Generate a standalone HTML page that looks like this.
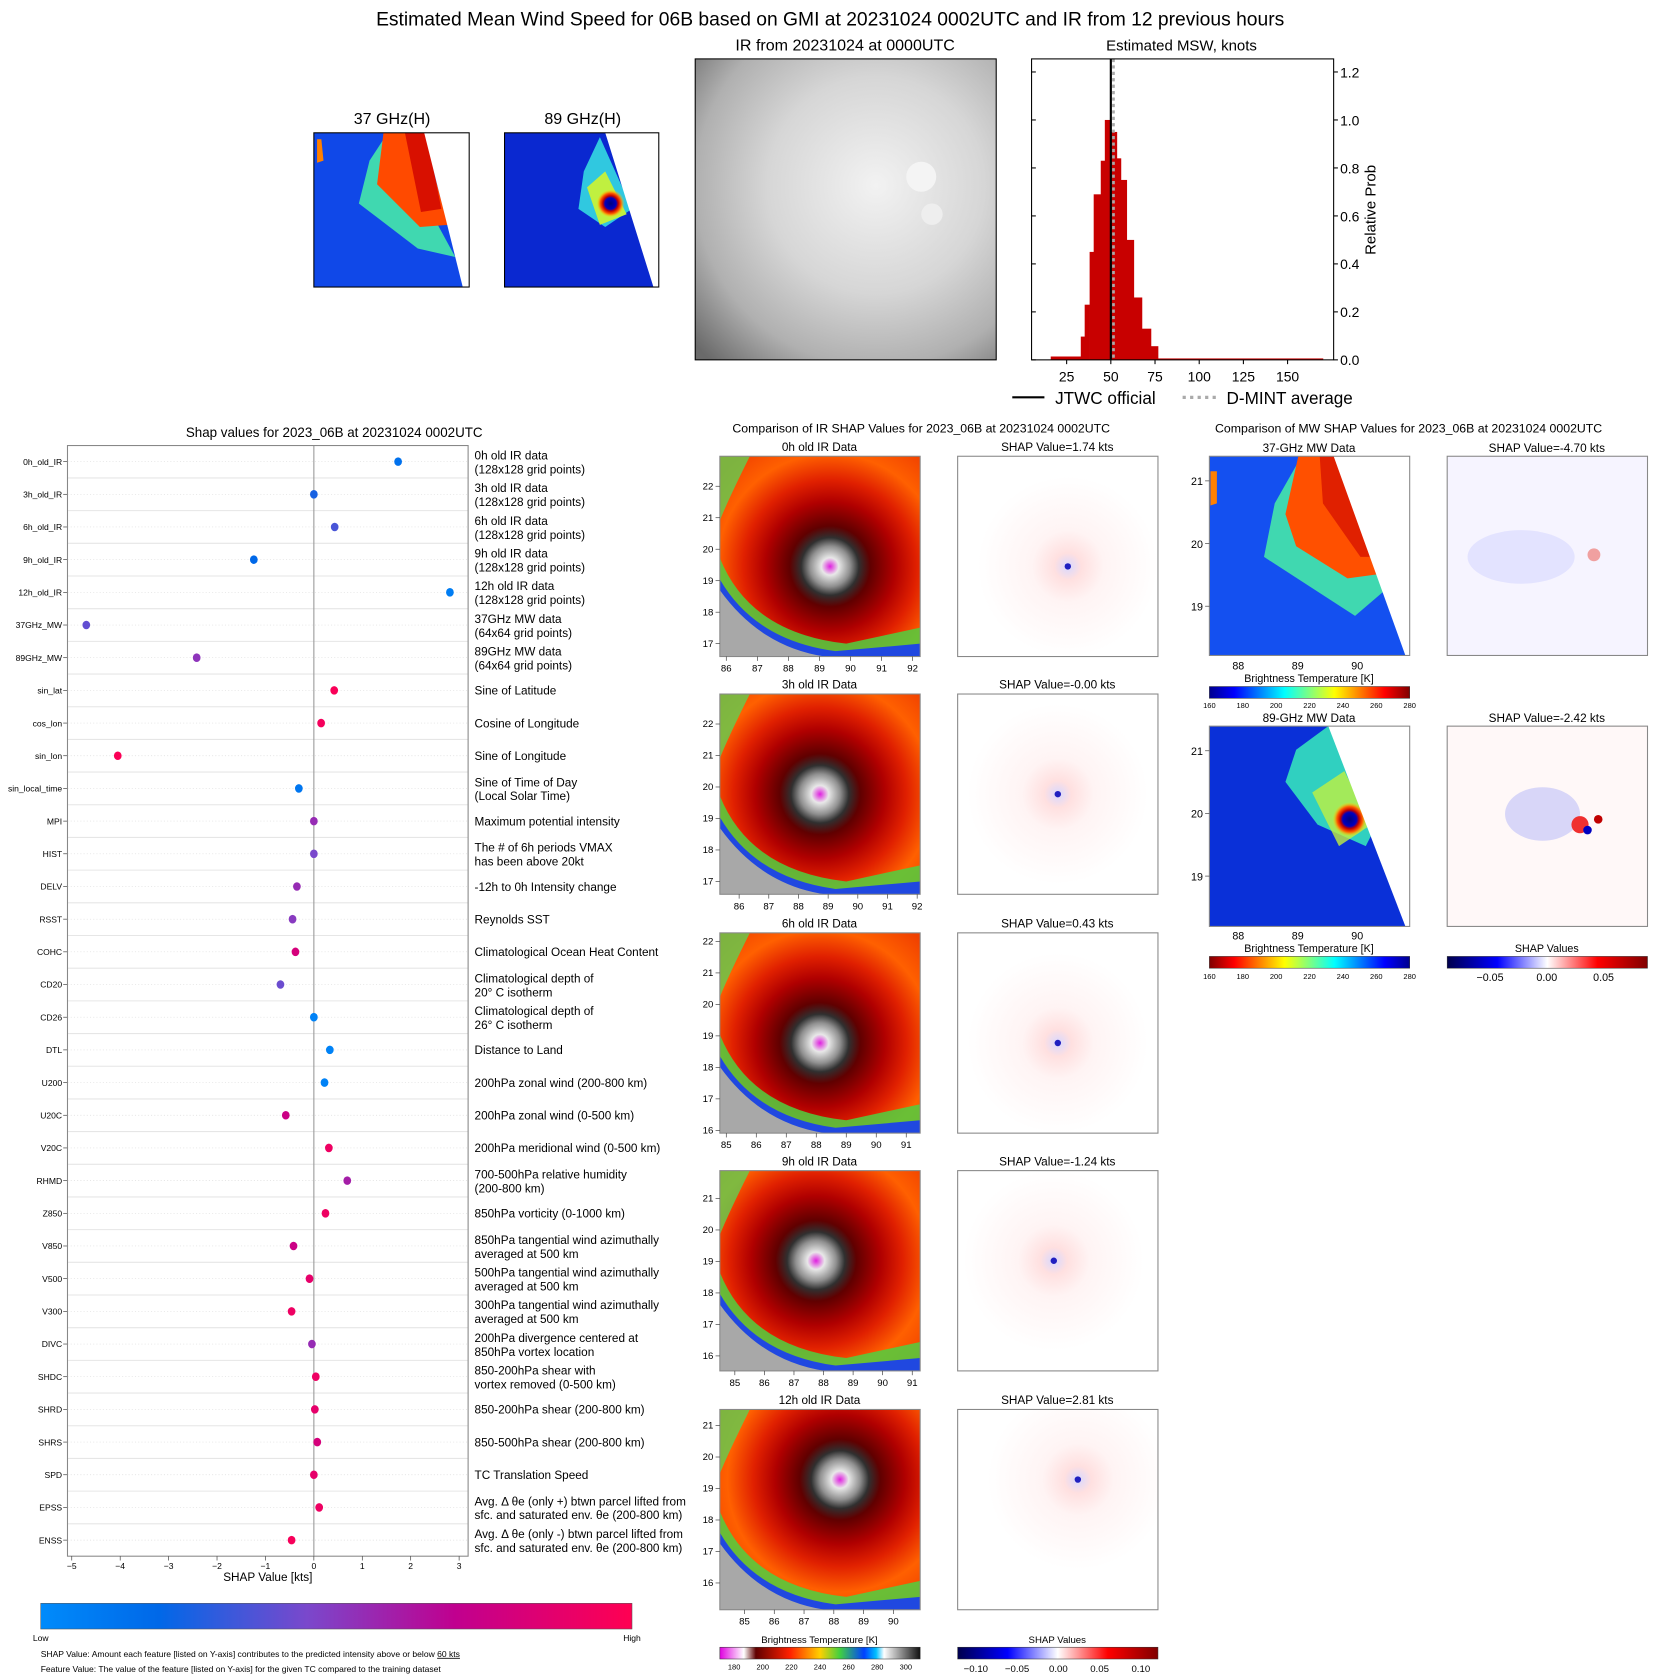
<!DOCTYPE html>
<html><head><meta charset="utf-8"><style>
html,body{margin:0;padding:0;background:#fff;}
svg{display:block;font-family:"Liberation Sans","DejaVu Sans",sans-serif;}
</style></head><body>
<svg id="fig" width="1655" height="1674" viewBox="0 0 1545 1563" preserveAspectRatio="none" xmlns="http://www.w3.org/2000/svg">
<defs>
<radialGradient id="gIRtop" cx="0.6" cy="0.42" r="0.8">
<stop offset="0" stop-color="#f2f2f2"/><stop offset="0.45" stop-color="#d6d6d6"/><stop offset="0.75" stop-color="#b0b0b0"/><stop offset="1" stop-color="#6a6a6a"/></radialGradient>
<radialGradient id="gIR" cx="0.5" cy="0.5" r="0.7">
<stop offset="0" stop-color="#e020e0"/><stop offset="0.06" stop-color="#e8e8e8"/><stop offset="0.14" stop-color="#909090"/><stop offset="0.2" stop-color="#303030"/><stop offset="0.28" stop-color="#600000"/><stop offset="0.45" stop-color="#b00000"/><stop offset="0.6" stop-color="#e02000"/><stop offset="0.78" stop-color="#ff6000"/><stop offset="1" stop-color="#f04000"/></radialGradient>
<radialGradient id="gSH" cx="0.5" cy="0.5" r="0.5">
<stop offset="0" stop-color="#d8d8ff"/><stop offset="0.15" stop-color="#ffe0e0"/><stop offset="0.4" stop-color="#fff4f4"/><stop offset="1" stop-color="#ffffff"/></radialGradient>
<radialGradient id="gRing" cx="0.5" cy="0.5" r="0.5">
<stop offset="0" stop-color="#000080"/><stop offset="0.4" stop-color="#0000c0"/><stop offset="0.55" stop-color="#c00000"/><stop offset="0.75" stop-color="#ff6000"/><stop offset="1" stop-color="#ffe000" stop-opacity="0"/></radialGradient>
<linearGradient id="gLow" x1="0" x2="1"><stop offset="0" stop-color="#008bfb"/><stop offset="0.2" stop-color="#0068e8"/><stop offset="0.45" stop-color="#7a48cc"/><stop offset="0.7" stop-color="#c0008f"/><stop offset="1" stop-color="#ff0052"/></linearGradient>
<linearGradient id="gJet" x1="0" x2="1"><stop offset="0" stop-color="#00008f"/><stop offset="0.125" stop-color="#0000ff"/><stop offset="0.375" stop-color="#00ffff"/><stop offset="0.625" stop-color="#ffff00"/><stop offset="0.875" stop-color="#ff0000"/><stop offset="1" stop-color="#800000"/></linearGradient>
<linearGradient id="gJetR" x1="1" x2="0"><stop offset="0" stop-color="#00008f"/><stop offset="0.125" stop-color="#0000ff"/><stop offset="0.375" stop-color="#00ffff"/><stop offset="0.625" stop-color="#ffff00"/><stop offset="0.875" stop-color="#ff0000"/><stop offset="1" stop-color="#800000"/></linearGradient>
<linearGradient id="gIRcb" x1="0" x2="1"><stop offset="0" stop-color="#e000e0"/><stop offset="0.12" stop-color="#ffffff"/><stop offset="0.18" stop-color="#600000"/><stop offset="0.35" stop-color="#ff2000"/><stop offset="0.5" stop-color="#ffd000"/><stop offset="0.6" stop-color="#40d040"/><stop offset="0.72" stop-color="#0040ff"/><stop offset="0.78" stop-color="#00c0ff"/><stop offset="0.82" stop-color="#ffffff"/><stop offset="1" stop-color="#101010"/></linearGradient>
<linearGradient id="gSeis" x1="0" x2="1"><stop offset="0" stop-color="#00004c"/><stop offset="0.25" stop-color="#0000ff"/><stop offset="0.5" stop-color="#ffffff"/><stop offset="0.75" stop-color="#ff0000"/><stop offset="1" stop-color="#800000"/></linearGradient>
</defs>

<text x="775" y="24" font-size="18" text-anchor="middle">Estimated Mean Wind Speed for 06B based on GMI at 20231024 0002UTC and IR from 12 previous hours</text>

<g>
<text x="366" y="116" font-size="15" text-anchor="middle">37 GHz(H)</text>
<rect x="293" y="124" width="145" height="144" fill="#1048e8"/>
<polygon points="345,150 362,124 425,240 390,232 335,190" fill="#40d8b0"/>
<polygon points="358,124 395,124 418,210 392,212 352,172" fill="#ff4a00"/>
<polygon points="378,124 398,124 412,195 393,198" fill="#d81000"/>
<polygon points="296,130 300,130 302,150 296,152" fill="#ff8000"/>
<polygon points="396,124 438,124 438,268 432,268" fill="#fff"/>
<rect x="293" y="124" width="145" height="144" fill="none" stroke="#000"/>
</g>
<g>
<text x="544" y="116" font-size="15" text-anchor="middle">89 GHz(H)</text>
<rect x="471" y="124" width="144" height="144" fill="#0a28d0"/>
<polygon points="545,160 560,128 590,195 565,212 540,195" fill="#30c8e0"/>
<polygon points="548,175 565,160 585,200 560,210" fill="#c0f040"/>
<circle cx="570" cy="190" r="13" fill="url(#gRing)"/>
<polygon points="565,124 615,124 615,268 610,268" fill="#fff"/>
<rect x="471" y="124" width="144" height="144" fill="none" stroke="#000"/>
</g>
<g>
<text x="789" y="47" font-size="15" text-anchor="middle">IR from 20231024 at 0000UTC</text>
<rect x="649" y="55" width="281" height="281" fill="url(#gIRtop)" stroke="#000"/>
<circle cx="860" cy="165" r="14" fill="#f4f4f4"/><circle cx="870" cy="200" r="10" fill="#eee"/>
</g>

<g id="hist">
<text x="1103" y="47" font-size="14" text-anchor="middle">Estimated MSW, knots</text>
<g id="histBars"></g>
<g id="histAxes"></g>
<rect x="963" y="55" width="282" height="281" fill="none" stroke="#000"/>
<text transform="translate(1284,196) rotate(-90)" font-size="14" text-anchor="middle">Relative Prob</text>
<g>
<line x1="945" y1="371" x2="975" y2="371" stroke="#000" stroke-width="2"/>
<text x="985" y="377" font-size="16">JTWC official</text>
<line x1="1104" y1="371" x2="1136" y2="371" stroke="#aaa" stroke-width="3" stroke-dasharray="3,4"/>
<text x="1145" y="377" font-size="16">D-MINT average</text>
</g>
</g>

<g id="shap">
<text x="312" y="408" font-size="12.5" text-anchor="middle">Shap values for 2023_06B at 20231024 0002UTC</text>
<g id="shapRows"></g>
<line x1="293" y1="416" x2="293" y2="1453" stroke="#999" stroke-width="1"/>
<rect x="63" y="416" width="374" height="1037" fill="none" stroke="#888"/>
<g id="shapDots"></g>
<g id="shapX"></g>
<text x="250" y="1476" font-size="11" text-anchor="middle">SHAP Value [kts]</text>
<rect x="38" y="1497" width="552" height="24" fill="url(#gLow)" stroke="#555" stroke-width="0.5"/>
<text x="38" y="1532" font-size="8" text-anchor="middle">Low</text>
<text x="590" y="1532" font-size="8" text-anchor="middle">High</text>
<text x="38" y="1547" font-size="8">SHAP Value: Amount each feature [listed on Y-axis] contributes to the predicted intensity above or below <tspan text-decoration="underline">60 kts</tspan></text>
<text x="38" y="1561" font-size="8">Feature Value: The value of the feature [listed on Y-axis] for the given TC compared to the training dataset</text>
</g>

<g id="irComp">
<text x="860" y="404" font-size="11.5" text-anchor="middle">Comparison of IR SHAP Values for 2023_06B at 20231024 0002UTC</text>
<text x="765" y="1534" font-size="9" text-anchor="middle">Brightness Temperature [K]</text>
<rect x="672" y="1538" width="187" height="11" fill="url(#gIRcb)" stroke="#333" stroke-width="0.5"/>
<text x="987" y="1534" font-size="9" text-anchor="middle">SHAP Values</text>
<rect x="894" y="1538" width="187" height="11" fill="url(#gSeis)" stroke="#333" stroke-width="0.5"/>
</g>

<g id="mwComp">
<text x="1315" y="404" font-size="11.5" text-anchor="middle">Comparison of MW SHAP Values for 2023_06B at 20231024 0002UTC</text>
<text x="1222" y="422" font-size="11" text-anchor="middle">37-GHz MW Data</text>
<rect x="1129" y="426" width="187" height="186" fill="#1450f0"/>
<polygon points="1190,470 1215,426 1300,545 1265,575 1180,520" fill="#40d8b0"/>
<polygon points="1212,426 1245,426 1295,535 1258,540 1210,510 1200,480" fill="#ff5000"/>
<polygon points="1232,426 1247,426 1290,520 1270,520 1235,470" fill="#e02000"/>
<polygon points="1130,440 1136,440 1136,470 1130,472" fill="#ff8000"/>
<polygon points="1245,426 1316,426 1316,612 1312,612" fill="#fff"/>
<rect x="1129" y="426" width="187" height="186" fill="none" stroke="#888"/>
<text x="1222" y="637" font-size="10" text-anchor="middle">Brightness Temperature [K]</text>
<rect x="1129" y="641" width="187" height="11" fill="url(#gJet)" stroke="#333" stroke-width="0.5"/>
<text x="1444" y="422" font-size="11" text-anchor="middle">SHAP Value=-4.70 kts</text>
<rect x="1351" y="426" width="187" height="186" fill="#f6f4ff" stroke="#888"/>
<ellipse cx="1420" cy="520" rx="50" ry="25" fill="#dcdcff" opacity="0.7"/>
<circle cx="1488" cy="518" r="6" fill="#f0a0a0"/>
<text x="1222" y="674" font-size="11" text-anchor="middle">89-GHz MW Data</text>
<rect x="1129" y="678" width="187" height="187" fill="#0a30d8"/>
<polygon points="1210,700 1240,678 1290,760 1275,790 1230,770 1200,730" fill="#30d0c0"/>
<polygon points="1225,740 1255,720 1280,770 1250,790" fill="#c0f040" opacity="0.8"/>
<circle cx="1260" cy="765" r="16" fill="url(#gRing)"/>
<polygon points="1240,678 1316,678 1316,865 1312,865" fill="#fff"/>
<rect x="1129" y="678" width="187" height="187" fill="none" stroke="#888"/>
<text x="1222" y="889" font-size="10" text-anchor="middle">Brightness Temperature [K]</text>
<rect x="1129" y="893" width="187" height="11" fill="url(#gJetR)" stroke="#333" stroke-width="0.5"/>
<text x="1444" y="674" font-size="11" text-anchor="middle">SHAP Value=-2.42 kts</text>
<rect x="1351" y="678" width="187" height="187" fill="#fff8f8" stroke="#888"/>
<ellipse cx="1440" cy="760" rx="35" ry="25" fill="#c8c8f8" opacity="0.7"/>
<circle cx="1475" cy="770" r="8" fill="#f03030"/><circle cx="1482" cy="775" r="4" fill="#0000c0"/><circle cx="1492" cy="765" r="4" fill="#c00000"/>
<text x="1444" y="889" font-size="10" text-anchor="middle">SHAP Values</text>
<rect x="1351" y="893" width="187" height="11" fill="url(#gSeis)" stroke="#333" stroke-width="0.5"/>
</g>
</svg>
<script>
var NS='http://www.w3.org/2000/svg';
var svg=document.getElementById('fig');
function mk(tag,attrs,parent){var e=document.createElementNS(NS,tag);for(var k in attrs)e.setAttribute(k,attrs[k]);parent.appendChild(e);return e;}
function tx(x,y,s,size,anchor,parent){var t=mk('text',{x:x,y:y,'font-size':size,'text-anchor':anchor||'middle'},parent);t.textContent=s;return t;}

// ---------- Histogram data ----------
var histEdges=[16,33,35.2,38,40.3,44.3,46.6,49.4,53.4,55.7,59,63,67.6,72.7,76.7,170];
var histProb=[0.014,0.097,0.23,0.45,0.69,0.83,1.0,0.95,0.84,0.75,0.50,0.26,0.13,0.057,0.006];
var jtwcValue=50;
var dmintValue=51.5;
var histXTicks=[25,50,75,100,125,150];
var histYTicks=[0,0.2,0.4,0.6,0.8,1.0,1.2];
function xH(v){return 1037+(v-50)*1.65;}
function yH(p){return 336-p*224;}
var hb=document.getElementById('histBars'),ha=document.getElementById('histAxes');
for(var i=0;i<histProb.length;i++){
  var r=mk('rect',{x:xH(histEdges[i]),y:yH(histProb[i]),width:xH(histEdges[i+1])-xH(histEdges[i])+0.3,height:336-yH(histProb[i]),fill:'#c80000'},hb);
  
  
}
var jl=mk('line',{x1:xH(jtwcValue),x2:xH(jtwcValue),y1:55,y2:336,stroke:'#000','stroke-width':2},hb);


var dl=mk('line',{x1:xH(dmintValue),x2:xH(dmintValue),y1:55,y2:336,stroke:'#aaa','stroke-width':2.5,'stroke-dasharray':'3,3'},hb);


histXTicks.forEach(function(v){
  mk('line',{x1:xH(v),x2:xH(v),y1:336,y2:340,stroke:'#000'},ha);
  var t=tx(xH(v),356,String(v),13,'middle',ha);
  
  
});
histYTicks.forEach(function(v){
  mk('line',{x1:1245,x2:1249,y1:yH(v),y2:yH(v),stroke:'#000'},ha);
  mk('line',{x1:963,x2:967,y1:yH(v),y2:yH(v),stroke:'#000'},ha);
  var t=tx(1251,yH(v)+5,v.toFixed(1),13,'start',ha);
  
  
});

// ---------- SHAP summary data ----------
var shapFeatures=['0h_old_IR','3h_old_IR','6h_old_IR','9h_old_IR','12h_old_IR','37GHz_MW','89GHz_MW','sin_lat','cos_lon','sin_lon','sin_local_time','MPI','HIST','DELV','RSST','COHC','CD20','CD26','DTL','U200','U20C','V20C','RHMD','Z850','V850','V500','V300','DIVC','SHDC','SHRD','SHRS','SPD','EPSS','ENSS'];
var shapDesc=[['0h old IR data','(128x128 grid points)'],['3h old IR data','(128x128 grid points)'],['6h old IR data','(128x128 grid points)'],['9h old IR data','(128x128 grid points)'],['12h old IR data','(128x128 grid points)'],['37GHz MW data','(64x64 grid points)'],['89GHz MW data','(64x64 grid points)'],['Sine of Latitude'],['Cosine of Longitude'],['Sine of Longitude'],['Sine of Time of Day','(Local Solar Time)'],['Maximum potential intensity'],['The # of 6h periods VMAX','has been above 20kt'],['-12h to 0h Intensity change'],['Reynolds SST'],['Climatological Ocean Heat Content'],['Climatological depth of','20° C isotherm'],['Climatological depth of','26° C isotherm'],['Distance to Land'],['200hPa zonal wind (200-800 km)'],['200hPa zonal wind (0-500 km)'],['200hPa meridional wind (0-500 km)'],['700-500hPa relative humidity','(200-800 km)'],['850hPa vorticity (0-1000 km)'],['850hPa tangential wind azimuthally','averaged at 500 km'],['500hPa tangential wind azimuthally','averaged at 500 km'],['300hPa tangential wind azimuthally','averaged at 500 km'],['200hPa divergence centered at','850hPa vortex location'],['850-200hPa shear with','vortex removed (0-500 km)'],['850-200hPa shear (200-800 km)'],['850-500hPa shear (200-800 km)'],['TC Translation Speed'],['Avg. Δ θe (only +) btwn parcel lifted from','sfc. and saturated env. θe (200-800 km)'],['Avg. Δ θe (only -) btwn parcel lifted from','sfc. and saturated env. θe (200-800 km)']];
var shapValues=[1.74,0.0,0.43,-1.24,2.81,-4.70,-2.42,0.42,0.15,-4.05,-0.31,0.0,0.0,-0.35,-0.44,-0.38,-0.69,0.0,0.33,0.22,-0.58,0.31,0.69,0.24,-0.42,-0.09,-0.46,-0.04,0.04,0.02,0.07,0.0,0.11,-0.46];
var featureLevel=[0.15,0.25,0.35,0.2,0.08,0.4,0.52,0.97,0.95,0.98,0.12,0.55,0.45,0.55,0.5,0.8,0.42,0.05,0.05,0.05,0.75,0.92,0.6,0.92,0.75,0.88,0.92,0.55,0.92,0.88,0.8,0.88,0.92,0.96];
var shapXTicks=[-5,-4,-3,-2,-1,0,1,2,3];
var rowTop=431;
var rowStep=(1438-431)/(shapFeatures.length-1);
function xS(v){return 293+v*45.2;}
function yS(i){return rowTop+i*rowStep;}
function lerp(a,b,t){return Math.round(a+(b-a)*t);}
function colorAt(t){
  var st=[[0,[0,139,251]],[0.2,[0,104,232]],[0.45,[122,72,204]],[0.7,[192,0,143]],[1,[255,0,82]]];
  for(var k=0;k<st.length-1;k++){if(t<=st[k+1][0]){var u=(t-st[k][0])/(st[k+1][0]-st[k][0]);var a=st[k][1],b=st[k+1][1];return 'rgb('+lerp(a[0],b[0],u)+','+lerp(a[1],b[1],u)+','+lerp(a[2],b[2],u)+')';}}
  return 'rgb(255,0,82)';
}
var sr=document.getElementById('shapRows'),sd=document.getElementById('shapDots'),sx=document.getElementById('shapX');
shapFeatures.forEach(function(f,i){
  var y=yS(i);
  mk('line',{x1:63,x2:437,y1:y,y2:y,stroke:'#ddd','stroke-dasharray':'1,2','stroke-width':0.6},sr);
  if(i>0) mk('line',{x1:63,x2:437,y1:y-rowStep/2,y2:y-rowStep/2,stroke:'#e6e6e6','stroke-width':1},sr);
  mk('line',{x1:59,x2:63,y1:y,y2:y,stroke:'#333','stroke-width':0.6},sr);
  var lab=tx(58,y+3,f,8,'end',sr);
  
  
  var d=shapDesc[i];
  var g=mk('g',{},sr);
  
  
  if(d.length===1){tx(443,y+4,d[0],11,'start',g);}
  else{tx(443,y-2,d[0],11,'start',g);tx(443,y+11,d[1],11,'start',g);}
  var c=mk('ellipse',{cx:xS(shapValues[i]),cy:y,rx:3.6,ry:4,fill:colorAt(featureLevel[i])},sd);
  
  
});
shapXTicks.forEach(function(v){
  mk('line',{x1:xS(v),x2:xS(v),y1:1453,y2:1457,stroke:'#333','stroke-width':0.6},sx);
  var t=tx(xS(v),1465,(v<0?'\u2212'+(-v):String(v)),8,'middle',sx);
  
  
});

// ---------- IR SHAP comparison panels ----------
var irTitles=['0h old IR Data','3h old IR Data','6h old IR Data','9h old IR Data','12h old IR Data'];
var irShapVals=['1.74','-0.00','0.43','-1.24','2.81'];
var irLatStart=[22,22,22,21,21];
var irLatEnd=[17,17,16,16,16];
var irLonStart=[86,86,85,85,85];
var irLonEnd=[92,92,91,91,90];
var irCenterX=[0.55,0.5,0.5,0.48,0.6];
var irCenterY=[0.55,0.5,0.55,0.45,0.35];
var rowY=[426,648,871,1093,1316];
var latFirstY=[454,676,879,1119,1331];
var lonFirstX=[678,690,678,686,695];
var lonStep=[29,27.7,28,27.6,27.8];
var ic=document.getElementById('irComp');
irTitles.forEach(function(tl,i){
  var y0=rowY[i];
  var g=mk('g',{},ic);
  
  
  tx(765,y0-5,tl,11,'middle',g);
  var gid='gIRp'+i;
  var rg=mk('radialGradient',{id:gid,cx:irCenterX[i],cy:irCenterY[i],r:0.72},svg.querySelector('defs'));
  rg.innerHTML=document.getElementById('gIR').innerHTML;
  mk('rect',{x:672,y:y0,width:187,height:187,fill:'url(#'+gid+')'},g);
  // lower-left outer band: green/blue then gray
  mk('path',{d:'M672,'+(y0+95)+' Q700,'+(y0+165)+' 790,'+(y0+175)+' L859,'+(y0+160)+' L859,'+(y0+187)+' L672,'+(y0+187)+' Z',fill:'#50d040',opacity:0.85},g);
  mk('path',{d:'M672,'+(y0+115)+' Q705,'+(y0+172)+' 780,'+(y0+182)+' L859,'+(y0+175)+' L859,'+(y0+187)+' L672,'+(y0+187)+' Z',fill:'#2048e0'},g);
  mk('path',{d:'M672,'+(y0+125)+' Q710,'+(y0+178)+' 770,'+(y0+187)+' L672,'+(y0+187)+' Z',fill:'#a8a8a8'},g);
  mk('path',{d:'M672,'+y0+' L700,'+y0+' Q680,'+(y0+40)+' 672,'+(y0+60)+' Z',fill:'#60d050',opacity:0.8},g);
  mk('rect',{x:672,y:y0,width:187,height:187,fill:'none',stroke:'#888'},g);
  var n=irLatStart[i]-irLatEnd[i];
  for(var k=0;k<=n;k++){var yy=latFirstY[i]+k*29.4;mk('line',{x1:668,x2:672,y1:yy,y2:yy,stroke:'#333','stroke-width':0.6},g);tx(666,yy+3,String(irLatStart[i]-k),9,'end',g);}
  var m=irLonEnd[i]-irLonStart[i];
  for(var k2=0;k2<=m;k2++){var xx=lonFirstX[i]+k2*lonStep[i];mk('line',{x1:xx,x2:xx,y1:y0+187,y2:y0+191,stroke:'#333','stroke-width':0.6},g);tx(xx,y0+201,String(irLonStart[i]+k2),9,'middle',g);}
  var g2=mk('g',{},ic);
  
  
  tx(987,y0-5,'SHAP Value='+irShapVals[i]+' kts',11,'middle',g2);
  var sg='gSHp'+i;
  var rs=mk('radialGradient',{id:sg,cx:irCenterX[i],cy:irCenterY[i],r:0.45},svg.querySelector('defs'));
  rs.innerHTML=document.getElementById('gSH').innerHTML;
  mk('rect',{x:894,y:y0,width:187,height:187,fill:'url(#'+sg+')',stroke:'#888'},g2);
  mk('circle',{cx:894+187*irCenterX[i],cy:y0+187*irCenterY[i],r:3,fill:'#2020c0'},g2);
});
var irCbTicks=[180,200,220,240,260,280,300];
irCbTicks.forEach(function(v,k){var x=672+((v-170)/140)*187;tx(x,1559,String(v),7,'middle',ic);});
var shCbTicks=['\u22120.10','\u22120.05','0.00','0.05','0.10'];
shCbTicks.forEach(function(s,k){tx(911+k*38.5,1561,s,9,'middle',ic);});

var mc=document.getElementById('mwComp');
var mwLat=[21,20,19];
var mwLon=[88,89,90];
[0,252].forEach(function(off){
  mwLat.forEach(function(v,k){var yy=449+off+k*58.5;mk('line',{x1:1125,x2:1129,y1:yy,y2:yy,stroke:'#333','stroke-width':0.6},mc);tx(1123,yy+4,String(v),10,'end',mc);});
  mwLon.forEach(function(v,k){var xx=1156+k*55.5;tx(xx,off+625,String(v),10,'middle',mc);});
});
var mwCbTicks=[160,180,200,220,240,260,280];
[652,905].forEach(function(yb){mwCbTicks.forEach(function(v,k){tx(1129+k*187/6,yb+9,String(v),7,'middle',mc);});});
['\u22120.05','0.00','0.05'].forEach(function(s,k){tx(1391+k*53,916,s,10,'middle',mc);});
</script>
</body></html>
